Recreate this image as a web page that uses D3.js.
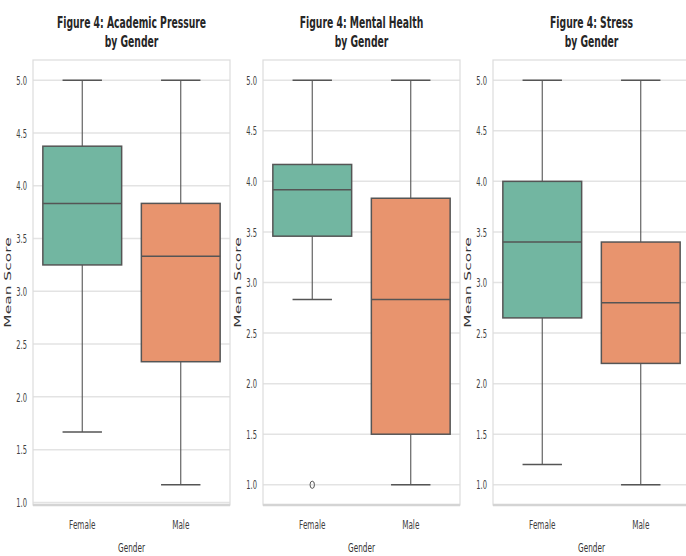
<!DOCTYPE html>
<html>
<head>
<meta charset="utf-8">
<script src="https://cdn.jsdelivr.net/npm/d3@7"></script>
<style>
  body { margin: 0; background: #fff; }
  svg text { font-family: "DejaVu Sans", sans-serif; fill: #262626; }
</style>
</head>
<body>
<div id="chart"></div>
<script>
// Data (box stats: lower whisker, Q1, median, Q3, upper whisker)
var genders          =   ["Female", "Male"];
var metrics          =   ["Academic Pressure", "Mental Health", "Stress"];
var academicPressure =   [[1.667, 3.25, 3.833, 4.375, 5.0], [1.167, 2.333, 3.333, 3.833, 5.0]];
var mentalHealth     =   [[2.833, 3.458, 3.917, 4.167, 5.0], [1.0, 1.5, 2.833, 3.833, 5.0]];
var stress           =   [[1.2, 2.65, 3.4, 4.0, 5.0], [1.0, 2.2, 2.8, 3.4, 5.0]];
var outliers         =   [[[], []], [[1.0], []], [[], []]];
var yTicks           =   [1.0, 1.5, 2.0, 2.5, 3.0, 3.5, 4.0, 4.5, 5.0];

var stats            =   [academicPressure, mentalHealth, stress];

var chart_width     =   686;
var chart_height    =   556;
var panel_left      =   33;
var panel_step      =   230;
var panel_width     =   197;
var panel_top       =   60;
var panel_bottom    =   505;
var SX              =   0.56;   // text in the picture is squeezed sideways
var colors          =   d3.scaleOrdinal().domain(genders).range(["#72b6a1", "#e8946e"]);
var line_color      =   "#555555";

var svg             =   d3.select("#chart")
    .append("svg")
    .attr("width", chart_width)
    .attr("height", chart_height);

function squeezed(sel, x, y) {
    return sel.attr("transform", "translate(" + x + "," + y + ") scale(" + SX + ",1)");
}

metrics.forEach(function(metric, p) {
    var left  = panel_left + p * panel_step;
    var right = left + panel_width;
    var g     = svg.append("g");

    // y domain like matplotlib autoscale (5% margin)
    var all = [];
    stats[p].forEach(function(s, i) { all = all.concat(s, outliers[p][i]); });
    var lo = d3.min(all), hi = d3.max(all), m = (hi - lo) * 0.05;

    var y_scale = d3.scaleLinear()
        .domain([lo - m, hi + m])
        .range([panel_bottom, panel_top]);

    var x_scale = d3.scaleBand()
        .domain(genders)
        .range([left, right])
        .padding(0);

    var ticks = yTicks.filter(function(t) { return t >= lo - m && t <= hi + m; });

    // grid
    g.selectAll(".grid")
        .data(ticks)
        .enter()
        .append("line")
        .attr("x1", left).attr("x2", right)
        .attr("y1", function(d) { return y_scale(d); })
        .attr("y2", function(d) { return y_scale(d); })
        .attr("stroke", "#e3e3e3")
        .attr("stroke-width", 1.5);

    // frame
    g.append("rect")
        .attr("x", left).attr("y", panel_top)
        .attr("width", panel_width).attr("height", panel_bottom - panel_top)
        .attr("fill", "none")
        .attr("stroke", "#dcdcdc")
        .attr("stroke-width", 1.2);
    g.append("line")
        .attr("x1", left).attr("x2", right)
        .attr("y1", panel_bottom).attr("y2", panel_bottom)
        .attr("stroke", "#d4d4d4")
        .attr("stroke-width", 2.5);

    // tick labels
    ticks.forEach(function(t) {
        squeezed(g.append("text"), left - 6, y_scale(t) + 1)
            .attr("text-anchor", "end")
            .attr("dominant-baseline", "middle")
            .style("font-size", "12px")
            .style("fill", "#404040")
            .text(d3.format(".1f")(t));
    });

    // boxes
    var bw = x_scale.bandwidth() * 0.8;
    genders.forEach(function(gender, i) {
        var s  = stats[p][i];
        var cx = x_scale(gender) + x_scale.bandwidth() / 2;

        // whiskers
        g.append("line")
            .attr("x1", cx).attr("x2", cx)
            .attr("y1", y_scale(s[0])).attr("y2", y_scale(s[1]))
            .attr("stroke", line_color).attr("stroke-width", 1.1);
        g.append("line")
            .attr("x1", cx).attr("x2", cx)
            .attr("y1", y_scale(s[3])).attr("y2", y_scale(s[4]))
            .attr("stroke", line_color).attr("stroke-width", 1.1);
        [s[0], s[4]].forEach(function(v) {
            g.append("line")
                .attr("x1", cx - bw / 4).attr("x2", cx + bw / 4)
                .attr("y1", y_scale(v)).attr("y2", y_scale(v))
                .attr("stroke", line_color).attr("stroke-width", 1.5);
        });

        g.append("rect")
            .attr("x", cx - bw / 2)
            .attr("y", y_scale(s[3]))
            .attr("width", bw)
            .attr("height", y_scale(s[1]) - y_scale(s[3]))
            .attr("fill", colors(gender))
            .attr("stroke", line_color)
            .attr("stroke-width", 1.5);

        g.append("line")
            .attr("x1", cx - bw / 2).attr("x2", cx + bw / 2)
            .attr("y1", y_scale(s[2])).attr("y2", y_scale(s[2]))
            .attr("stroke", line_color).attr("stroke-width", 1.5);

        outliers[p][i].forEach(function(v) {
            g.append("ellipse")
                .attr("cx", cx).attr("cy", y_scale(v))
                .attr("rx", 2.2).attr("ry", 3.6)
                .attr("fill", "none")
                .attr("stroke", line_color)
                .attr("stroke-width", 1);
        });

        // category label
        squeezed(g.append("text"), cx, 529)
            .attr("text-anchor", "middle")
            .style("font-size", "13px")
            .style("fill", "#404040")
            .text(gender);
    });

    var mid = left + panel_width / 2;

    // x label
    squeezed(g.append("text"), mid, 552)
        .attr("text-anchor", "middle")
        .style("font-size", "13px")
        .style("fill", "#333")
        .text("Gender");

    // y label
    g.append("text")
        .attr("transform", "translate(" + (left - 22) + "," + ((panel_top + panel_bottom) / 2) + ") scale(" + SX + ",1) rotate(-90)")
        .attr("text-anchor", "middle")
        .style("font-size", "15.5px")
        .style("fill", "#333")
        .text("Mean Score");

    // title
    squeezed(g.append("text"), mid, 28)
        .attr("text-anchor", "middle")
        .style("font-size", "16.5px")
        .style("font-weight", "bold")
        .text("Figure 4: " + metric);
    squeezed(g.append("text"), mid, 47)
        .attr("text-anchor", "middle")
        .style("font-size", "16.5px")
        .style("font-weight", "bold")
        .text("by Gender");
});
</script>
</body>
</html>
